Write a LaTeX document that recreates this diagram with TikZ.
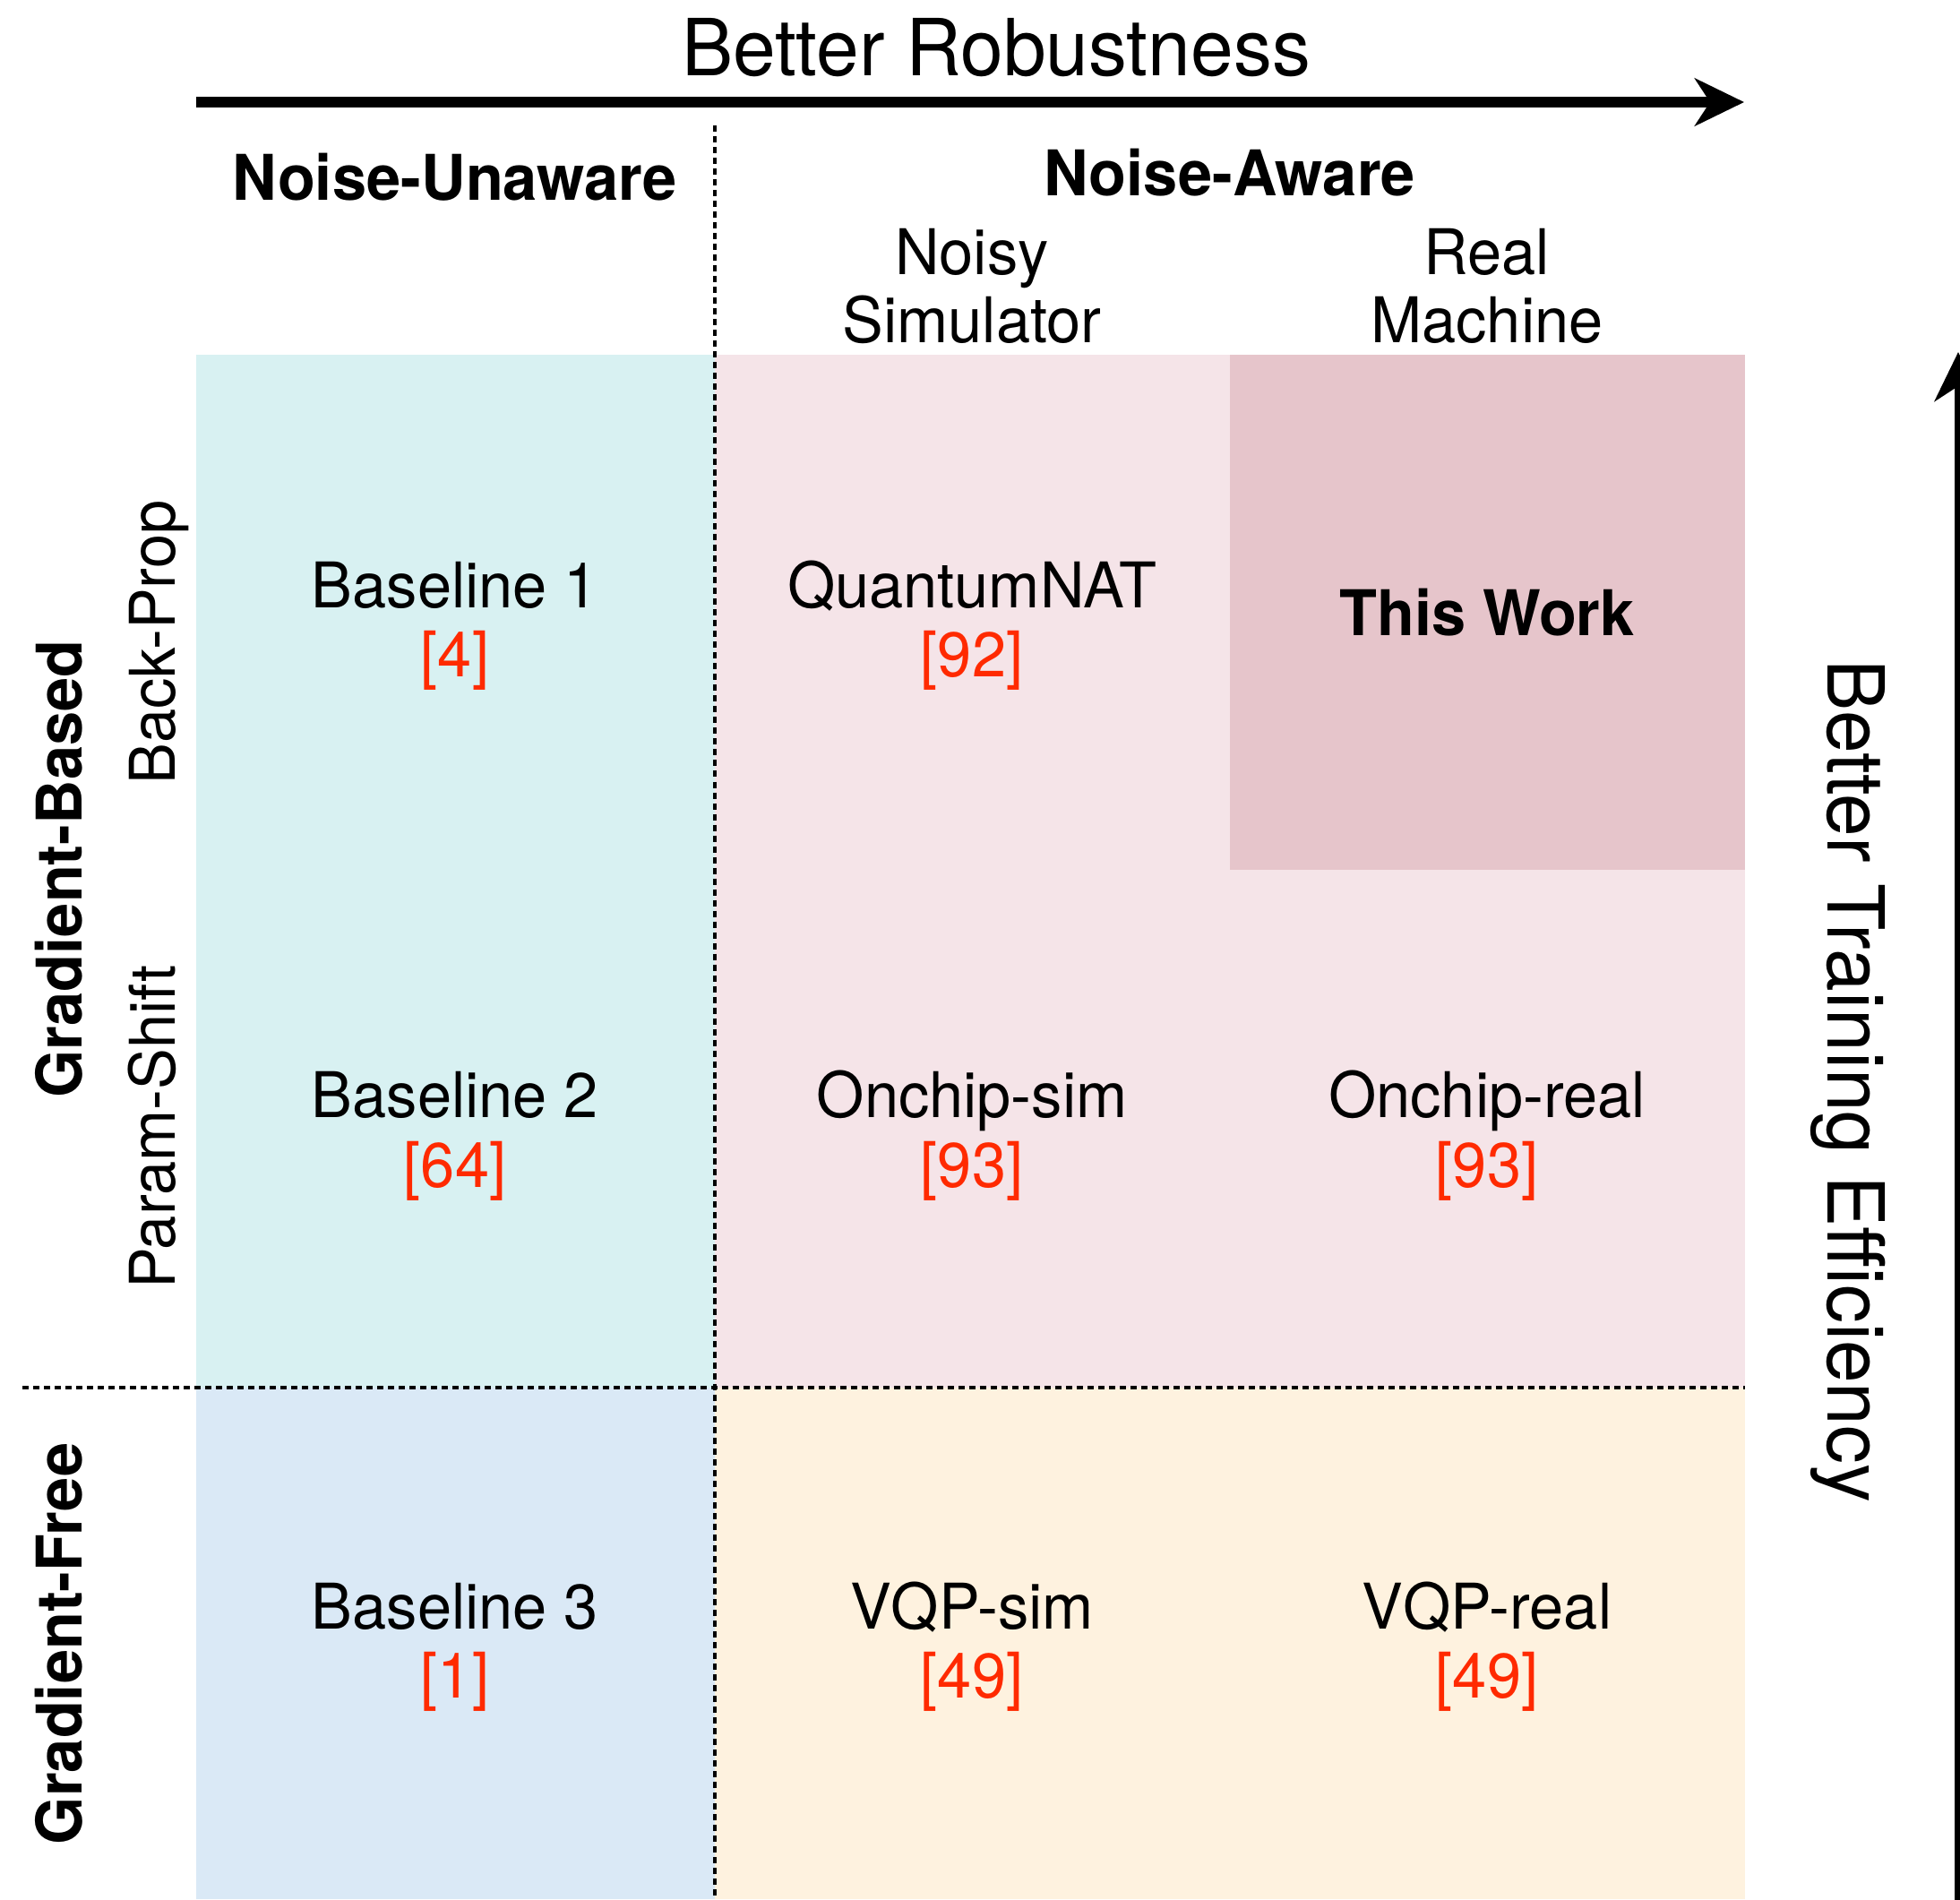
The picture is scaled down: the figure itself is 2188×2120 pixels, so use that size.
\documentclass[tikz,border=0pt]{standalone}
\usepackage{fontspec}
\setmainfont{TeX Gyre Heros}[FakeStretch=0.975]
\usetikzlibrary{arrows.meta}
\definecolor{cyancell}{HTML}{D8F1F2}
\definecolor{bluecell}{HTML}{DAE9F6}
\definecolor{pinkcell}{HTML}{F5E4E8}
\definecolor{workcell}{HTML}{E6C5CB}
\definecolor{orangecell}{HTML}{FEF2DF}
\definecolor{refred}{HTML}{FF2A00}
\begin{document}
\begin{tikzpicture}[x=0.01cm,y=-0.01cm,
  lbl/.style={anchor=base, inner sep=0pt, font=\fontsize{20}{22}\selectfont},
  refl/.style={lbl, text=refred},
  hdr/.style={anchor=base, inner sep=0pt, font=\fontsize{20}{22}\selectfont\bfseries},
  big/.style={anchor=base, inner sep=0pt, font=\fontsize{25}{28}\selectfont},
  dots/.style={line width=1pt, dash pattern=on 0.07cm off 0.05cm},
  axisarrow/.style={-{Stealth[length=0.55cm,width=0.53cm,inset=0.17cm]}}
]
\useasboundingbox (0,0) rectangle (2188,2120);
% cells
\fill[cyancell] (219,396) rectangle (798,1549);
\fill[bluecell] (219,1549) rectangle (798,2120);
\fill[pinkcell] (798,396) rectangle (1948,1549);
\fill[workcell] (1373,396) rectangle (1948,971);
\fill[orangecell] (798,1549) rectangle (1948,2120);
% dotted separators
\coordinate (vt) at (798,140);
\coordinate (vb) at (798,2120);
\coordinate (hl) at (25,1549);
\coordinate (hr) at (1948,1549);
\draw[dots] (vt) -- (vb);
\draw[dots] (hl) -- (hr);
% axes
\coordinate (ra0) at (219,114);
\coordinate (ra1) at (1947,114);
\draw[axisarrow, line width=3.4pt] (ra0) -- (ra1);
\coordinate (ea0) at (2186,2125);
\coordinate (ea1) at (2186,393);
\draw[axisarrow, line width=2.3pt] (ea0) -- (ea1);
\node[big] (title) at (1112,84) {Better Robustness};
\node[big, rotate=-90] (eff) at (2040,1207) {Better Training Efficiency};
% headers
\node[hdr] (nu) at (508,223) {Noise-Unaware};
\node[hdr] (na) at (1373,218) {Noise-Aware};
\node[lbl] (ns1) at (1085,306) {Noisy};
\node[lbl] (ns2) at (1085,382) {Simulator};
\node[lbl] (rm1) at (1660,306) {Real};
\node[lbl] (rm2) at (1660,382) {Machine};
% side labels
\node[hdr, rotate=90] (gb) at (91,970) {Gradient-Based};
\node[hdr, rotate=90] (gf) at (91,1835) {Gradient-Free};
\node[lbl, rotate=90] (bp) at (195,717) {Back-Prop};
\node[lbl, rotate=90] (ps) at (195,1258) {Param-Shift};
% row 1
\node[lbl] (b1) at (508,678) {Baseline 1};
\node[refl] (b1r) at (508,755) {[4]};
\node[lbl] (qn) at (1085,678) {QuantumNAT};
\node[refl] (qnr) at (1085,755) {[92]};
\node[hdr] (tw) at (1660,709) {This Work};
% row 2
\node[lbl] (b2) at (508,1247) {Baseline 2};
\node[refl] (b2r) at (508,1325) {[64]};
\node[lbl] (os) at (1085,1247) {Onchip-sim};
\node[refl] (osr) at (1085,1325) {[93]};
\node[lbl] (orl) at (1660,1247) {Onchip-real};
\node[refl] (orr) at (1660,1325) {[93]};
% row 3
\node[lbl] (b3) at (508,1818) {Baseline 3};
\node[refl] (b3r) at (508,1895) {[1]};
\node[lbl] (vs) at (1085,1818) {VQP-sim};
\node[refl] (vsr) at (1085,1895) {[49]};
\node[lbl] (vr) at (1660,1818) {VQP-real};
\node[refl] (vrr) at (1660,1895) {[49]};
\end{tikzpicture}
\end{document}
